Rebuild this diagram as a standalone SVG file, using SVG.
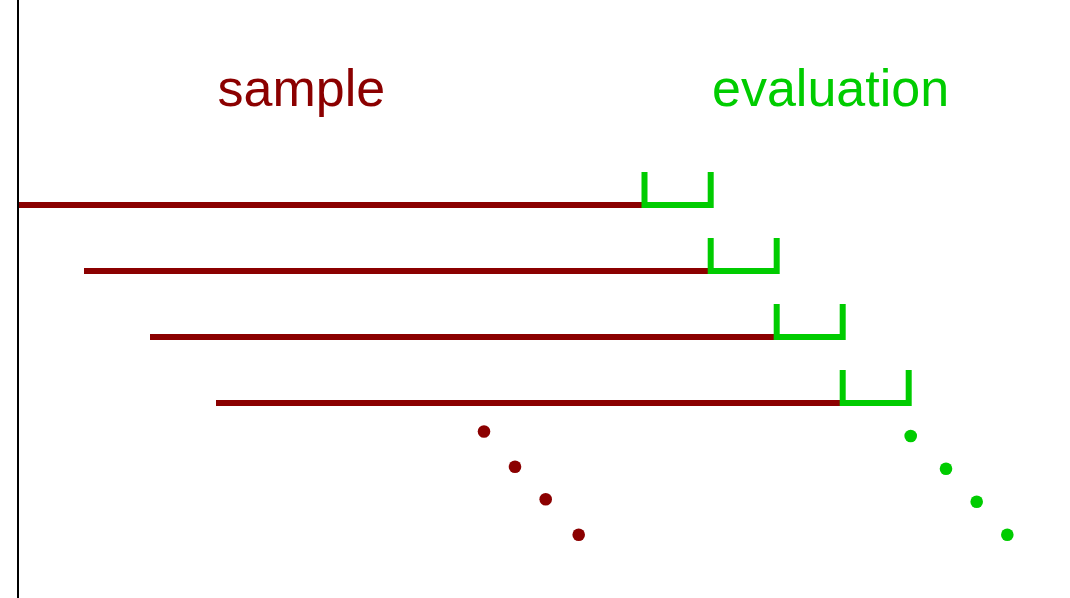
<svg xmlns="http://www.w3.org/2000/svg" width="1070" height="598" viewBox="0 0 1070 598">
<style>
.lbl{font-family:"Liberation Sans",Arial,sans-serif;font-size:52px}
.s{stroke:#8b0000;stroke-width:6;fill:none}
.e{stroke:#00cc00;stroke-width:6;fill:none;stroke-linejoin:miter}
.ds{fill:#8b0000}
.de{fill:#00cc00}
</style>
<rect width="1070" height="598" fill="#ffffff"/>
<g id="axis"><line x1="18" y1="0" x2="18" y2="598" stroke="#000" stroke-width="2"/></g>
<g id="label-sample"><text class="lbl" x="217.5" y="106" fill="#8b0000">sample</text></g>
<g id="label-evaluation"><text class="lbl" x="712" y="106" fill="#00cc00">evaluation</text></g>
<g id="connectors">
<g id="row1"><line class="s" x1="19" y1="205" x2="644" y2="205"/><polyline class="e" points="644.5,172 644.5,205 710.7,205 710.7,172"/></g>
<g id="row2"><line class="s" x1="84" y1="271" x2="710" y2="271"/><polyline class="e" points="710.7,238 710.7,271 776.7,271 776.7,238"/></g>
<g id="row3"><line class="s" x1="150" y1="337" x2="776" y2="337"/><polyline class="e" points="776.7,304 776.7,337 842.7,337 842.7,304"/></g>
<g id="row4"><line class="s" x1="216" y1="403" x2="842" y2="403"/><polyline class="e" points="842.7,370 842.7,403 908.7,403 908.7,370"/></g>
</g>
<g id="dots-sample">
<circle class="ds" cx="484" cy="431.5" r="6.3"/>
<circle class="ds" cx="515" cy="466.7" r="6.3"/>
<circle class="ds" cx="545.7" cy="499.3" r="6.3"/>
<circle class="ds" cx="578.7" cy="534.7" r="6.3"/>
</g>
<g id="dots-evaluation">
<circle class="de" cx="910.7" cy="436" r="6.3"/>
<circle class="de" cx="946" cy="468.7" r="6.3"/>
<circle class="de" cx="976.7" cy="501.7" r="6.3"/>
<circle class="de" cx="1007.3" cy="534.7" r="6.3"/>
</g>
</svg>
